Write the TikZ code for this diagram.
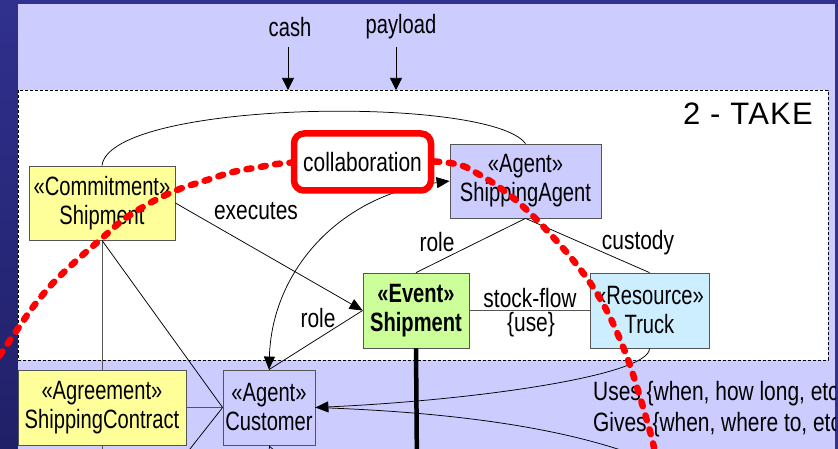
\documentclass[tikz,border=0pt]{standalone}
\usepackage{fontspec}
\setmainfont{Liberation Sans}
\newfontfamily\narrowfont[FakeStretch=0.76]{Liberation Sans}
\newfontfamily\labelfont[FakeStretch=0.79]{Liberation Sans}
\usetikzlibrary{arrows.meta}

\definecolor{navytop}{HTML}{30308E}
\definecolor{navybot}{HTML}{202068}
\definecolor{lavender}{HTML}{CCCCFF}
\definecolor{paleyellow}{HTML}{FFFF99}
\definecolor{palegreen}{HTML}{CCFF99}
\definecolor{paleblue}{HTML}{CCEEFF}
\definecolor{edgegray}{HTML}{555555}
\definecolor{markred}{HTML}{FF0000}

\tikzset{
  txt/.style={font=\narrowfont\fontsize{26.5}{29}\selectfont, inner sep=0pt},
  lbl/.style={font=\labelfont\fontsize{26.5}{29}\selectfont, inner sep=0pt},
  classbox/.style={txt, draw=edgegray, line width=0.8pt, align=center, anchor=center},
  link/.style={draw=black, line width=0.75pt},
  arrowlink/.style={link, -{Triangle[length=13pt,width=11pt]}},
  flowarrow/.style={link, -{Triangle[length=12pt,width=12pt]}},
}

\begin{document}
\begin{tikzpicture}[x=1pt,y=-1pt]
\useasboundingbox (0,0) rectangle (838,449);

% dark surround and light panel
\fill[navytop] (0,0) rectangle (838,449);
\shade[top color=navytop, bottom color=navybot] (0,0) rectangle (18,449);
\fill[lavender] (18,4) rectangle (835,449);

\begin{scope}
\clip (18,4) rectangle (835,449);

% process frame
\draw[fill=white, line width=0.6pt, dash pattern=on 3pt off 2pt] (18,90) rectangle (828,360);
\node[font=\fontsize{31}{34}\selectfont\addfontfeature{LetterSpace=4}, anchor=east, inner sep=0pt] (title) at (813,114) {2 - TAKE};

% inputs
\node[txt] (cash) at (290,27) {cash};
\node[txt] (payload) at (401,27) {payload};
\coordinate (cashtop) at (288,47);
\coordinate (cashin) at (288,90);
\coordinate (paytop) at (396,47);
\coordinate (payin) at (396,90);
\draw[flowarrow] (cashtop) -- (cashin);
\draw[flowarrow] (paytop) -- (payin);

% classes
\node[classbox, fill=paleyellow, minimum width=146pt, minimum height=74pt] (commit) at (102,203) {«Commitment»\\Shipment};
\node[classbox, fill=lavender, minimum width=151pt, minimum height=74pt] (sagent) at (525.5,181) {«Agent»\\ShippingAgent};
\node[classbox, fill=palegreen, minimum width=106pt, minimum height=75pt, font=\narrowfont\bfseries\fontsize{26.5}{29}\selectfont] (event) at (416,310.5) {«Event»\\Shipment};
\node[classbox, fill=paleblue, minimum width=119pt, minimum height=75pt] (truck) at (649.5,310.5) {«Resource»\\Truck};
\node[classbox, fill=paleyellow, minimum width=168pt, minimum height=75pt] (contract) at (102,407.5) {«Agreement»\\ShippingContract};
\node[classbox, fill=lavender, minimum width=92pt, minimum height=75pt] (customer) at (269,407.5) {«Agent»\\Customer};

% associations
\draw[link] (commit.north) .. controls (110,100) and (490,95) .. (sagent.north);
\draw[arrowlink] (commit.east) -- (event.west);
\node[lbl] (lexec) at (256,211) {executes};
\draw[link] (event.west) -- (customer.north);
\node[lbl] (lrole1) at (318,318) {role};
\draw[link, {Triangle[length=13pt,width=11pt]}-{Triangle[length=13pt,width=11pt]}] (customer.north) .. controls (272,270) and (340,195) .. (sagent.west);
\draw[link] (event.north) -- (sagent.south);
\node[lbl] (lrole2) at (437,242) {role};
\draw[link] (sagent.south) -- (truck.north);
\node[lbl] (lcust) at (638,243) {custody};
\draw[link, draw=edgegray] (event.east) -- (truck.west);
\node[lbl] (lstock) at (530,298) {stock-flow};
\node[lbl] (luse) at (531,325) {\{use\}};

\draw[arrowlink] (truck.south) .. controls (650,375) and (480,400) .. (customer.east);
\coordinate (givesend) at (690,480);
\draw[link] (customer.east) .. controls (450,412) and (600,428) .. (givesend);
\node[lbl, anchor=west] (luses) at (593,394) {Uses \{when, how long, etc};
\node[lbl, anchor=west] (lgives) at (593,425) {Gives \{when, where to, etc};

\draw[link, draw=edgegray] (commit.south) -- (contract.north);
\draw[link] (commit.south) -- (customer.west);
\draw[link, draw=edgegray] (contract.east) -- (customer.west);
\coordinate (cwend) at (175,468);
\draw[link] (customer.west) -- (cwend);
\coordinate (ctend) at (102,470);
\draw[link, draw=edgegray] (contract.south) -- (ctend);
\coordinate (cbend) at (285,480);
\draw[link, -{Triangle[open, length=12pt, width=11pt]}] (cbend) -- (customer.south);

% flow of the event
\coordinate (flowend) at (417,470);
\draw[line width=4.5pt] (event.south) -- (flowend);
\end{scope}

% boundary of the collaboration
\draw[markred, line width=6.5pt, line cap=round, dash pattern=on 5pt off 9.5pt]
  plot[smooth, tension=0.55] coordinates {(-8,368) (0,355) (17,330) (33,307) (53,283) (77,260) (100,240) (123,220) (150,203) (177,190) (207,180) (233,172) (260,167) (287,163) (365,159) (450,163) (480,175) (507,193) (530,213) (553,237) (573,260) (593,287) (610,317) (627,357) (640,397) (653,443) (656,465)};
\node[lbl, draw=markred, line width=6.5pt, fill=white, rounded corners=10pt, minimum width=137pt, minimum height=57pt] (collab) at (362.5,162) {collaboration};
\end{tikzpicture}
\end{document}
